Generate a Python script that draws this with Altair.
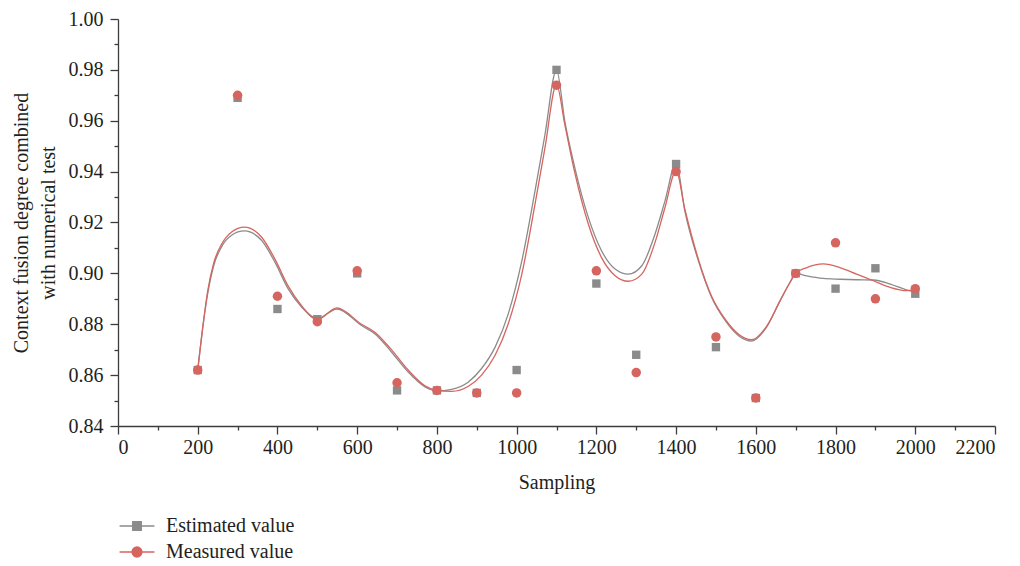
import altair as alt
import pandas as pd

# ---------------- data ----------------
sampling = [200, 300, 400, 500, 600, 700, 800, 900, 1000, 1100,
            1200, 1300, 1400, 1500, 1600, 1700, 1800, 1900, 2000]
estimated = [0.862, 0.969, 0.886, 0.882, 0.900, 0.854, 0.854, 0.853, 0.862, 0.980,
             0.896, 0.868, 0.943, 0.871, 0.851, 0.900, 0.894, 0.902, 0.892]
measured = [0.862, 0.970, 0.891, 0.881, 0.901, 0.857, 0.854, 0.853, 0.853, 0.974,
            0.901, 0.861, 0.940, 0.875, 0.851, 0.900, 0.912, 0.890, 0.894]

# smoothed curves
curve_x = [200, 212, 225, 240, 260, 285, 317, 360, 394, 427, 461, 500, 549, 611,
           645, 686, 728, 770, 800, 837, 879, 912, 946, 979, 1013, 1046, 1071, 1100,
           1121, 1146, 1180, 1213, 1247, 1280, 1314, 1347, 1372, 1400, 1422, 1456,
           1489, 1523, 1556, 1590, 1627, 1661, 1686, 1700, 1728, 1769, 1811, 1853,
           1895, 1937, 1978, 2000]
estimated_curve = [0.862, 0.878, 0.892, 0.903, 0.9105, 0.915, 0.9167, 0.9130, 0.9043,
                   0.8939, 0.8867, 0.8822, 0.8860, 0.8795, 0.8762, 0.8691, 0.8612,
                   0.8554, 0.8538, 0.8544, 0.8573, 0.8626, 0.8710, 0.8841, 0.9049,
                   0.9323, 0.9545, 0.980, 0.9597, 0.9415, 0.9219, 0.9089, 0.9017,
                   0.8997, 0.9030, 0.9154, 0.9284, 0.9434, 0.9245, 0.9049, 0.8906,
                   0.8815, 0.8756, 0.8734, 0.8789, 0.8893, 0.8965, 0.9000, 0.8990,
                   0.8980, 0.8977, 0.8975, 0.8974, 0.8958, 0.8935, 0.8926]
measured_curve = [0.862, 0.878, 0.893, 0.904, 0.9115, 0.9163, 0.9182, 0.9143, 0.9055,
                  0.8950, 0.8872, 0.8818, 0.8864, 0.8800, 0.8768, 0.8700, 0.8620,
                  0.8558, 0.8540, 0.8536, 0.8556, 0.8600, 0.8678, 0.8802, 0.8997,
                  0.9271, 0.9493, 0.9743, 0.9584, 0.9395, 0.9193, 0.9062, 0.8991,
                  0.8969, 0.8997, 0.9121, 0.9258, 0.9404, 0.9252, 0.9055, 0.8910,
                  0.8820, 0.8762, 0.8739, 0.8792, 0.8893, 0.8965, 0.9000, 0.9023,
                  0.9037, 0.9023, 0.8997, 0.8971, 0.8945, 0.8932, 0.8936]

series = ["Estimated value", "Measured value"]
x_major = [0, 200, 400, 600, 800, 1000, 1200, 1400, 1600, 1800, 2000, 2200]
x_minor = [100, 300, 500, 700, 900, 1100, 1300, 1500, 1700, 1900, 2100]
y_major = [0.84, 0.86, 0.88, 0.90, 0.92, 0.94, 0.96, 0.98, 1.00]
y_minor = [0.85, 0.87, 0.89, 0.91, 0.93, 0.95, 0.97, 0.99]

GRAY = "#8b8b8b"
RED = "#d6645f"
AXIS = "#3c3c3c"
TEXT = "#231f20"
FONT = "Liberation Serif"

pts = pd.DataFrame({"x": sampling, "est": estimated, "meas": measured})
curve = pd.DataFrame({"x": curve_x, "est": estimated_curve, "meas": measured_curve})
legend_df = pd.DataFrame({"series": series})

xscale = alt.Scale(domain=[0, 2200], nice=False, zero=False)
yscale = alt.Scale(domain=[0.84, 1.00], nice=False, zero=False)

common_axis = dict(domainColor=AXIS, domainWidth=1.3, tickColor=AXIS, tickWidth=1.3,
                   labelFont=FONT, labelFontSize=20, labelColor=TEXT, grid=False,
                   titleFont=FONT, titleFontSize=20, titleColor=TEXT, titleFontWeight="normal")

x_major_axis = alt.Axis(values=x_major, tickSize=8, labelPadding=3, title="Sampling", format="d",
                        titlePadding=15, orient="bottom", **common_axis)
y_major_axis = alt.Axis(values=y_major, tickSize=8, labelPadding=7, format=".2f",
                        title=["Context fusion degree combined", "with numerical test"],
                        titlePadding=10, titleLineHeight=27, orient="left", **common_axis)
x_minor_axis = alt.Axis(values=x_minor, tickSize=4, labels=False, domain=False, title=None,
                        orient="bottom", tickColor=AXIS, tickWidth=1.3, grid=False)
y_minor_axis = alt.Axis(values=y_minor, tickSize=4, labels=False, domain=False, title=None,
                        orient="left", tickColor=AXIS, tickWidth=1.3, grid=False)

est_line = alt.Chart(curve).mark_line(color=GRAY, strokeWidth=1.3, interpolate="monotone").encode(
    x=alt.X("x:Q", scale=xscale, axis=x_major_axis),
    y=alt.Y("est:Q", scale=yscale, axis=y_major_axis),
)
meas_line = alt.Chart(curve).mark_line(color=RED, strokeWidth=1.3, interpolate="monotone").encode(
    x=alt.X("x:Q", scale=xscale, axis=x_minor_axis),
    y=alt.Y("meas:Q", scale=yscale, axis=y_minor_axis),
)
est_pts = alt.Chart(pts).mark_point(shape="square", filled=True, color=GRAY, opacity=1, size=70).encode(
    x=alt.X("x:Q", scale=xscale, axis=None),
    y=alt.Y("est:Q", scale=yscale, axis=None),
)
meas_pts = alt.Chart(pts).mark_point(shape="circle", filled=True, color=RED, opacity=1, size=90).encode(
    x=alt.X("x:Q", scale=xscale, axis=None),
    y=alt.Y("meas:Q", scale=yscale, axis=None),
)

sq_path = "M-2.05,0L2.05,0M-0.5,-0.5L0.5,-0.5L0.5,0.5L-0.5,0.5Z"
ci_path = "M-2.05,0L2.05,0M0.58,0A0.58,0.58 0 1,1 -0.58,0A0.58,0.58 0 1,1 0.58,0Z"

leg = alt.Legend(title=None, orient="none", legendX=9, legendY=497, symbolSize=289,
                 symbolStrokeWidth=1.4, labelFont=FONT, labelFontSize=20, labelColor=TEXT,
                 labelOffset=19, rowPadding=6, symbolOpacity=1, direction="vertical")

legend_layer = alt.Chart(legend_df).mark_point(filled=True).encode(
    fill=alt.Fill("series:N", scale=alt.Scale(domain=series, range=[GRAY, RED]), legend=leg),
    stroke=alt.Stroke("series:N", scale=alt.Scale(domain=series, range=[GRAY, RED]), legend=leg),
    shape=alt.Shape("series:N", scale=alt.Scale(domain=series, range=[sq_path, ci_path]), legend=leg),
).transform_filter("false")

chart = alt.layer(est_line, meas_line, est_pts, meas_pts, legend_layer).resolve_axis(
    x="independent", y="independent"
).properties(
    width=877, height=407,
    autosize=alt.AutoSizeParams(type="none"),
    padding={"left": 110, "top": 11, "right": 17, "bottom": 140},
    background="white",
).configure_view(stroke=None)

chart.save("out.html", embed_options={"renderer": "svg", "actions": False})
